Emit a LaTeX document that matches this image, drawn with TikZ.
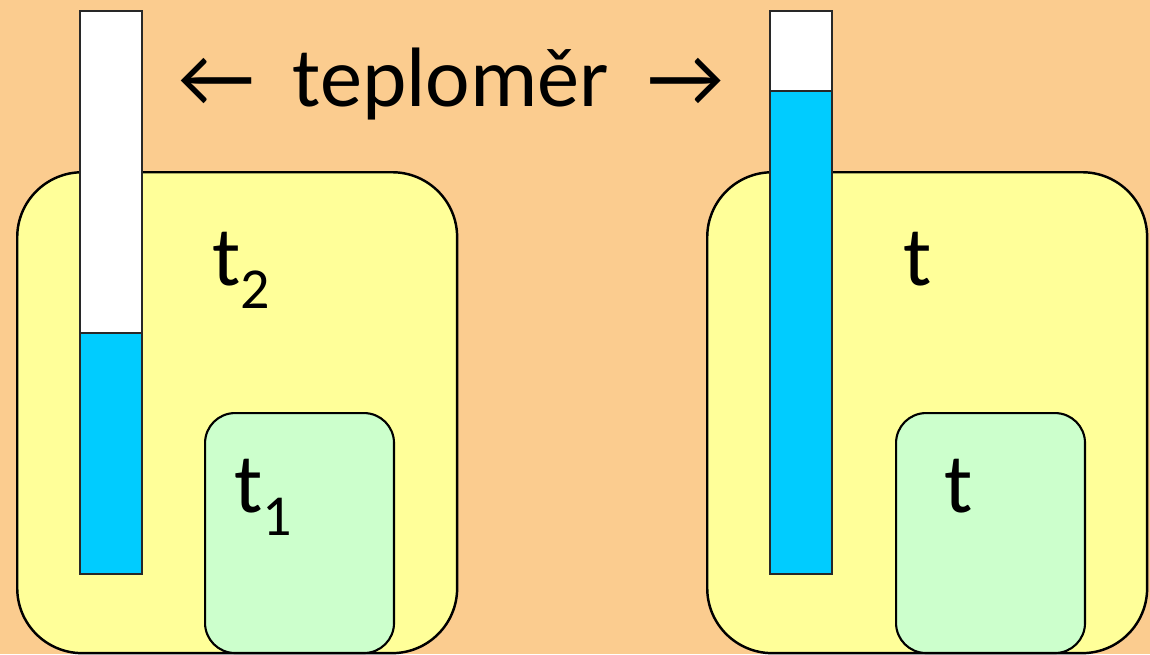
\documentclass[tikz,border=0pt]{standalone}
\usepackage{fontspec}
\setmainfont{Carlito}
\definecolor{bgorange}{RGB}{251,204,143}
\definecolor{vessel}{RGB}{255,255,153}
\definecolor{body}{RGB}{204,255,204}
\definecolor{mercury}{RGB}{0,204,255}
\definecolor{rim}{RGB}{40,40,40}
\tikzset{
  vesselbox/.style={draw=black, line width=1.4pt, fill=vessel, rounded corners=1.3cm,
    minimum width=8.8cm, minimum height=9.62cm, anchor=north west, inner sep=0pt},
  bodybox/.style={draw=black, line width=1.2pt, fill=body, rounded corners=0.6cm,
    minimum width=3.78cm, minimum height=4.8cm, anchor=north west, inner sep=0pt},
  tube/.style={draw=rim, line width=1.4pt, fill=white,
    minimum width=1.24cm, minimum height=11.26cm, anchor=north west, inner sep=0pt},
  column/.style={draw=rim, line width=1.4pt, fill=mercury,
    minimum width=1.24cm, anchor=south west, inner sep=0pt},
  label/.style={font=\fontsize{48}{50}\selectfont, anchor=base west, inner sep=0pt},
}
\newcommand{\sub}[1]{\raisebox{-0.28em}{\fontsize{33}{33}\selectfont #1}}
\begin{document}
\begin{tikzpicture}[x=0.02cm, y=-0.02cm]
  \fill[bgorange] (0,0) rectangle (1150,654);
  \useasboundingbox (0,0) rectangle (1150,654);

  % vessels with the immersed bodies
  \node[vesselbox] (vL) at (16,171) {};
  \node[vesselbox] (vR) at (706,171) {};
  \node[bodybox] (bL) at (204,412) {};
  \node[bodybox] (bR) at (895,412) {};

  % thermometers
  \node[tube] (thL) at (79,10) {};
  \node[column, minimum height=4.82cm] (mL) at (thL.south west) {};
  \node[tube] (thR) at (769,10) {};
  \node[column, minimum height=9.66cm] (mR) at (thR.south west) {};

  % labels
  \node[font=\fontsize{48}{50}\selectfont, inner sep=0pt] (title) at (451,84)
    {←\hspace{0.45em}teploměr\hspace{0.45em}→};
  \node[label] (t2) at (212,285) {t\sub{2}};
  \node[label] (t1) at (234,512) {t\sub{1}};
  \node[label] (tv) at (903,285) {t};
  \node[label] (tb) at (944,512) {t};
\end{tikzpicture}
\end{document}
